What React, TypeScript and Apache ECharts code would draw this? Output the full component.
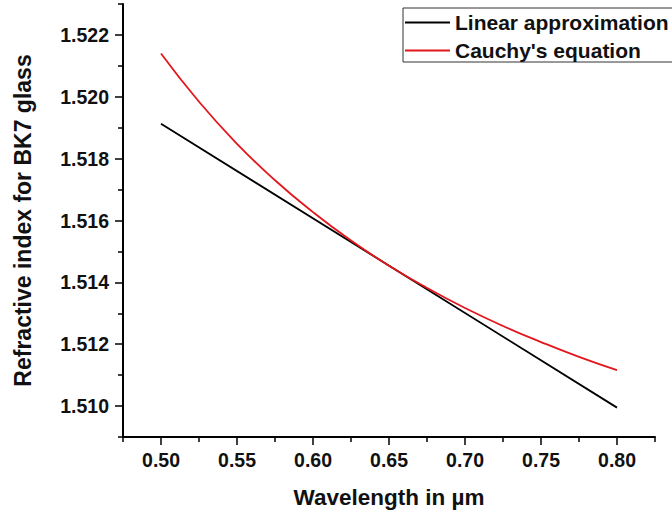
import React, { useEffect, useRef } from "react";
import * as echarts from "echarts";

const wavelengths = [0.5, 0.525, 0.55, 0.575, 0.6, 0.625, 0.65, 0.675, 0.7, 0.725, 0.75, 0.775, 0.8];
const cauchyValues = [1.5214, 1.51984, 1.51848, 1.5173, 1.51627, 1.51535, 1.51454, 1.51382, 1.51317, 1.51259, 1.51207, 1.51159, 1.51116];
const linearX = [0.5, 0.8];
const linearValues = [1.51913, 1.50995];

const xMajorTicks = [0.5, 0.55, 0.6, 0.65, 0.7, 0.75, 0.8];
const xMinorTicks = [0.475, 0.525, 0.575, 0.625, 0.675, 0.725, 0.775, 0.825];
const yMajorTicks = [1.51, 1.512, 1.514, 1.516, 1.518, 1.52, 1.522];
const yMinorTicks = [1.509, 1.511, 1.513, 1.515, 1.517, 1.519, 1.521, 1.523];

const seriesNames = ["Linear approximation", "Cauchy's equation"];

const FONT = "'Liberation Sans', Arial, sans-serif";

export default function App() {
  const ref = useRef<HTMLDivElement>(null);
  useEffect(() => {
    if (!ref.current) return;
    const chart = echarts.init(ref.current, undefined, { renderer: "svg" });
    const axisLine = { show: true, lineStyle: { color: "#000", width: 2 } };
    chart.setOption({
      animation: false,
      backgroundColor: "#fff",
      grid: { left: 123, right: 17, top: 4, bottom: 78, containLabel: false },
      legend: {
        orient: "vertical",
        left: 403,
        top: 8,
        padding: [4, 4, 1, 2],
        borderColor: "#333",
        borderWidth: 1,
        itemWidth: 45,
        itemHeight: 2,
        itemGap: 7,
        icon: "rect",
        data: seriesNames,
        textStyle: {
          fontFamily: FONT,
          fontWeight: "bold",
          fontSize: 21,
          lineHeight: 20,
          color: "#111",
        },
      },
      xAxis: [
        {
          type: "value",
          min: 0.475,
          max: 0.825,
          position: "bottom",
          axisLine,
          splitLine: { show: false },
          axisTick: {
            show: true,
            customValues: xMajorTicks,
            length: 8,
            lineStyle: { color: "#000", width: 1.5 },
          },
          axisLabel: {
            customValues: xMajorTicks,
            formatter: (v: number) => v.toFixed(2),
            fontFamily: FONT,
            fontWeight: "bold",
            fontSize: 19.5,
            color: "#111",
            margin: 13,
          },
          name: "Wavelength in µm",
          nameLocation: "middle",
          nameGap: 49,
          nameTextStyle: {
            fontFamily: FONT,
            fontWeight: "bold",
            fontSize: 22.5,
            color: "#111",
          },
        },
        {
          type: "value",
          min: 0.475,
          max: 0.825,
          position: "bottom",
          axisLine: { show: false },
          splitLine: { show: false },
          axisTick: {
            show: true,
            customValues: xMinorTicks,
            length: 5,
            lineStyle: { color: "#000", width: 1.5 },
          },
          axisLabel: { show: false },
        },
      ],
      yAxis: [
        {
          type: "value",
          min: 1.509,
          max: 1.523,
          position: "left",
          axisLine,
          splitLine: { show: false },
          axisTick: {
            show: true,
            customValues: yMajorTicks,
            length: 8,
            lineStyle: { color: "#000", width: 1.5 },
          },
          axisLabel: {
            customValues: yMajorTicks,
            formatter: (v: number) => v.toFixed(3),
            fontFamily: FONT,
            fontWeight: "bold",
            fontSize: 19.5,
            color: "#111",
            margin: 14,
          },
          name: "Refractive index for BK7 glass",
          nameLocation: "middle",
          nameGap: 89,
          nameTextStyle: {
            fontFamily: FONT,
            fontWeight: "bold",
            fontSize: 23,
            color: "#111",
          },
        },
        {
          type: "value",
          min: 1.509,
          max: 1.523,
          position: "left",
          axisLine: { show: false },
          splitLine: { show: false },
          axisTick: {
            show: true,
            customValues: yMinorTicks,
            length: 5,
            lineStyle: { color: "#000", width: 1.5 },
          },
          axisLabel: { show: false },
        },
      ],
      series: [
        {
          name: seriesNames[0],
          type: "line",
          showSymbol: false,
          symbol: "none",
          data: linearX.map((x, i) => [x, linearValues[i]]),
          lineStyle: { color: "#000", width: 1.8 },
          itemStyle: { color: "#000" },
        },
        {
          name: seriesNames[1],
          type: "line",
          showSymbol: false,
          symbol: "none",
          smooth: true,
          data: wavelengths.map((x, i) => [x, cauchyValues[i]]),
          lineStyle: { color: "#e3161c", width: 1.8 },
          itemStyle: { color: "#e3161c" },
        },
      ],
    });
    return () => chart.dispose();
  }, []);
  return (
    <div
      ref={ref}
      style={{ position: "fixed", left: 0, top: 0, width: 672, height: 515 }}
    />
  );
}
